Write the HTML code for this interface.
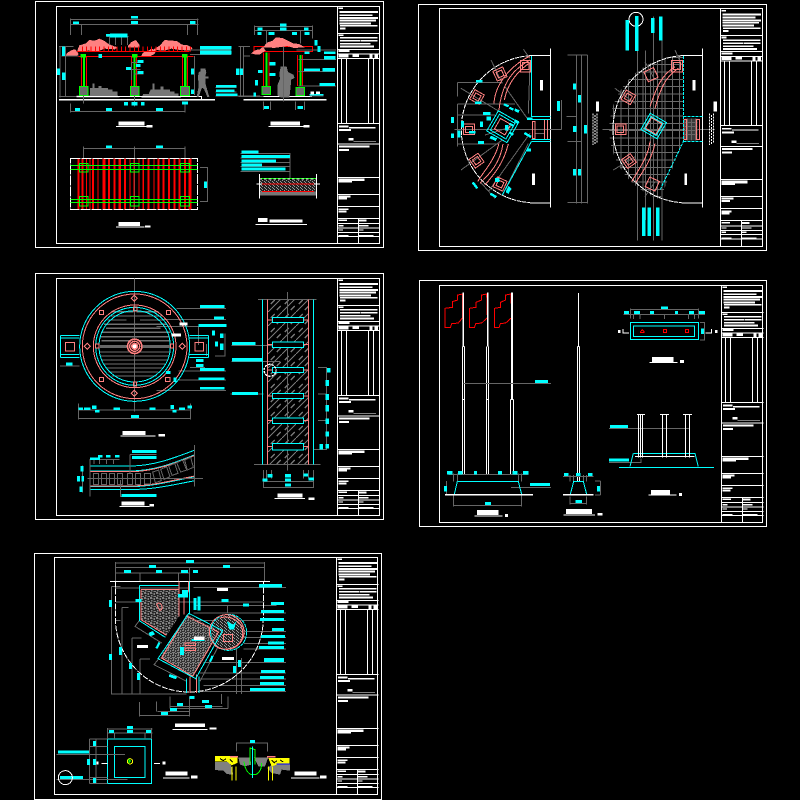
<!DOCTYPE html>
<html><head><meta charset="utf-8"><title>Landscape construction drawing sheets</title>
<style>html,body{margin:0;padding:0;background:#000}svg{display:block}</style></head>
<body>
<svg xmlns="http://www.w3.org/2000/svg" width="800" height="800" viewBox="0 0 800 800" shape-rendering="crispEdges" fill="none" stroke-linejoin="miter">
<defs>
<pattern id="spk" width="18" height="15" patternUnits="userSpaceOnUse"><rect width="18" height="15" fill="#262626"/><path d="M0 0h7v3H0zM10 0h5v6h-5zM3 6h4v5H3zM10 9h8v3h-8zM0 12h6v3H0z" fill="#808080"/></pattern>
<pattern id="spk2" width="15" height="15" patternUnits="userSpaceOnUse"><rect width="15" height="15" fill="#333"/><path d="M0 0h6v3H0zM9 0h3v6H9zM0 6h3v6H0zM6 6h6v3H6zM6 12h9v3H6z" fill="#808080"/></pattern>
<pattern id="hat" width="42" height="42" patternUnits="userSpaceOnUse"><path d="M0 42L42 0M8 18L20 6M26 36L38 24" stroke="#777" stroke-width="4"/></pattern>
<pattern id="sec" width="12" height="9" patternUnits="userSpaceOnUse"><rect width="12" height="9" fill="#222"/><path d="M0 0h3v3H0zM6 3h3v3H6zM9 6h3v3H9z" fill="#999"/></pattern>
<clipPath id="gridclip"><path d="M800 167A221 221 0 0 0 735 598L805 425V167Z"/></clipPath>
<g id="tb">
<path stroke="#fff" stroke-width="3" d="M0 81H126M0 129H126M0 157H126M0 351H126M0 413H126M0 513H126M0 564H126M0 600H126M0 636H126M0 652H126M0 665H126M0 678H126M0 691H126M13 157V351M27 157V351M94 157V351M109 157V351M63 636V712"/>
<path fill="#fff" d="M3 4h14v4H3zM6 14h116v6H6zM6 24h100v5H6zM6 32h116v6H6zM6 40h110v5H6zM6 48h95v6H6zM8 56h112v5H8zM8 64h16v6H8zM4 84h14v5H4zM8 92h112v5H8zM8 101h60v5H8zM70 101h50v5H70zM8 110h92v5H8zM8 118h102v6H8zM4 131h32v6H4zM0 142h126v3H0zM4 145h30v9H4zM45 145h20v7H45zM96 145h10v10H96zM112 145h10v10H112zM5 358h28v5H5zM35 362h80v4H35zM5 368h36v6H5zM34 395h14v8H34zM48 404h68v2H48zM5 418h92v6H5zM5 428h30v6H5zM4 516h78v8H4zM4 524h40v5H4zM4 567h36v6H4zM4 574h25v6H4zM4 606h30v5H4zM4 612h24v6H4zM3 640h26v4H3zM65 640h22v6H65zM3 656h15v4H3zM65 656h28v4H65zM3 669h14v4H3zM65 669h14v4H65zM3 686h30v4H3zM65 686h44v4H65z"/>
</g>
</defs>
<rect width="800" height="800" fill="#000"/>

<!-- SHEET 1 -->
<g transform="translate(30 0) scale(.33333)">
<path stroke="#fff" stroke-width="3" d="M16 4H1060V742H16ZM79 19H1048V731H79ZM922 19V731"/>
<use href="#tb" x="922" y="19"/>
<!-- shrubs -->
<path fill="#777" d="M180 264h8v-14h6v14h12v-6h8v6h20v4h14v6h14v12l6 6H140v-6h40zM340 282h16l6-14h6v-18h6v18h18v-8h8v8h20v6h14v6h12v8l8 6H334z"/>
<!-- clouds -->
<path fill="#ff8080" d="M106 168l6-10 14-8 10-2 10 14-6 6h-34zM142 152l6-16 20-6 10-10 16 2 14-6 14 6 14 10 14 6 14 4-10 6-30-2-20 8-30-2-16 4zM294 138l10-12 14-6 10 14v8h-34zM333 170l6-12 16-6 10-6 14 6-6 10-12 6h-28zM368 150l22-14 14-16 24 2 14 2 14 10 18 2 14 8-8 8-30-2-26-4-20 6-30-2z"/>
<!-- beams & posts -->
<path stroke="#f00" stroke-width="3" d="M145 169H490M141 154H478M157 139V154M170 139V154M183 139V154M196 139V154M209 139V154M222 139V154M235 139V154M248 139V154M261 139V154M274 139V154M287 139V154M300 139V154M313 139V154M326 139V154M339 139V154M352 139V154M365 139V154M378 139V154M391 139V154M404 139V154M417 139V154M430 139V154M443 139V154M456 139V154M469 139V154M482 139V154M155 170V258M170 170V258M305 170V258M320 170V258M458 170V258M473 170V258"/>
<path stroke="#f00" stroke-width="3" d="M672 139H848V155H672ZM700 158V258M717 158V258M802 165V258M818 165V258"/>
<path fill="#0f0" d="M159 162h6v96h-6zM152 162h16v10h-16zM310 162h7v96h-7zM306 162h16v10h-16zM462 162h7v96h-7zM456 162h16v10h-16zM706 158h6v100h-6zM808 165h6v95h-6z"/>
<path fill="#6a6a6a" d="M148 259h26v27h-26zM301 259h26v27h-26zM452 259h26v27h-26zM696 260h26v24h-26zM798 262h26v24h-26z"/>
<path stroke="#0f0" stroke-width="3" d="M148 259h26v27h-26zM301 259h26v27h-26zM452 259h26v27h-26zM696 260h26v24h-26zM798 262h26v24h-26z"/>
<!-- ground -->
<path stroke="#fff" stroke-width="3" d="M100 289H515V297M640 289H846"/>
<path stroke="#fff" stroke-width="5" d="M87 299H555M640 299H890"/>
<!-- people -->
<path fill="#777" d="M512 205h14l3 12-3 12h10v6h-10v14l6 22 6 20h-6l-10-24-6-4-10 28h-6l6-32-2-28 2-14 6-4zM752 200h18l4 16 16 8 4 10-10 4-4 40-2 14h-26l-10-6v-30l8-20-2-14z"/>
<!-- clouds 2 -->
<path fill="#ff8080" d="M663 160l14-10 12-2 10-8 8 12-10 6-8 6-14-1zM700 142l10-14 18-6 10-10 20 2 16 8 16 8 18 2 16 10-32 2-20-6-40 6-18-2z"/>
<!-- dims -->
<path stroke="#666" stroke-width="3" d="M121 58H505M121 73H505M121 55V105M503 55V105M155 73V105M472 73V105M107 140V290M90 140V292M87 140H130M95 168H145M87 290H140M121 334H465M121 310V338M465 310V338M160 286V310M313 286V320M480 150H603M480 163H603M493 168V285M230 110H296M238 110V135M256 110V135M275 110V135M292 110V135M305 188H340M305 188V240M295 208H332M310 222H340M556 262H620M556 276H620M556 288H690M673 79H848M673 92H848M673 76V105M848 76V115M710 92V130M812 92V130M631 140V290M641 140V290M625 140H660M640 168H660M625 290H700M760 140V305M700 305V330M722 305V330M797 305V330M824 305V330M800 150H918M806 178H918M806 215H915M806 258H918M840 288H880M160 445H465M160 440V475M313 440V475M465 440V475M510 502H533V605H510M313 475V629M780 460V535M632 460H782M632 474H782M632 488H782M632 500H782M632 515H782"/>
<!-- cyan labels -->
<path fill="#0ff" d="M303 48h21v8h-21zM303 63h21v9h-21zM129 64h18v8h-18zM480 63h16v9h-16zM240 100h52v12h-52zM228 102h14v8h-14zM510 138h94v10h-94zM510 152h94v11h-94zM96 140h9v28h-9zM81 205h9v20h-9zM96 218h10v22h-10zM483 205h9v18h-9zM483 268h9v14h-9zM135 324h15v9h-15zM228 324h18v9h-18zM378 324h21v9h-21zM282 306h12v10h-12zM305 306h17v10h-17zM333 306h10v10h-10zM456 305h18v8h-18zM323 180h17v9h-17zM288 201h15v9h-15zM318 192h13v9h-13zM323 213h17v9h-17zM205 162h11v12h-11zM558 255h62v8h-62zM558 268h55v8h-55zM558 280h64v8h-64zM750 70h20v9h-20zM750 83h20v9h-20zM683 82h14v9h-14zM822 82h14v9h-14zM682 96h13v9h-13zM716 96h18v9h-18zM786 96h15v9h-15zM824 96h15v9h-15zM853 120h10v16h-10zM862 138h10v18h-10zM824 154h15v8h-15zM882 154h35v8h-35zM882 168h35v10h-35zM822 205h48v8h-48zM877 204h38v10h-38zM868 249h47v9h-47zM718 186h18v10h-18zM684 210h14v9h-14zM718 219h18v9h-18zM675 240h9v16h-9zM670 278h8v12h-8zM618 205h10v20h-10zM630 205h9v20h-9zM702 318h15v9h-15zM803 318h16v9h-16zM838 282h42v4h-42zM228 436h18v8h-18zM378 436h21v8h-21zM522 544h9v20h-9zM634 452h52v9h-52zM634 465h146v9h-146zM634 478h104v9h-104zM634 490h62v9h-62zM634 503h132v9h-132z"/>
<path fill="#fff" d="M265 364h78v12h-78zM258 378h95v3h-95zM350 375h18v7h-18zM722 364h88v12h-88zM715 378h105v3h-105zM820 375h18v7h-18zM265 666h65v12h-65zM258 680h85v3h-85zM345 676h16v6h-16zM684 654h28v12h-28zM718 658h100v10H718zM676 672h155v3H676zM842 275h10v8h-10zM858 274h12v8h-12z"/>
<!-- roof plan -->
<path fill="#f00" d="M142 475h6v154h-6zM155 475h6v154h-6zM168 475h3v154h-3zM178 475h3v154h-3zM186 475h6v154h-6zM202 475h3v154h-3zM218 475h8v154h-8zM234 475h6v154h-6zM250 475h7v154h-7zM266 475h7v154h-7zM282 475h6v154h-6zM298 475h3v154h-3zM310 475h3v154h-3zM326 475h3v154h-3zM338 475h4v154h-4zM352 475h6v154h-6zM370 475h3v154h-3zM382 475h6v154h-6zM398 475h6v154h-6zM414 475h6v154h-6zM430 475h7v154h-7zM445 475h6v154h-6zM462 475h6v154h-6zM476 475h8v154h-8z"/>
<path stroke="#fff" stroke-width="3" stroke-dasharray="30 3" d="M121 475H503V629H121Z"/>
<path stroke="#0f0" stroke-width="3" d="M121 497H503M121 509H503M121 598H503M121 608H503M148 490h26v26h-26zM301 490h26v26h-26zM452 490h26v26h-26zM148 589h26v29h-26zM301 589h26v29h-26zM452 589h26v29h-26z"/>
<!-- section -->
<rect x="690" y="540" width="168" height="46" fill="url(#sec)"/>
<path fill="#777" d="M690 574h168v12H690z"/>
<path stroke="#fff" stroke-width="3" d="M688 522V596M860 522V596M680 552H870"/>
<path stroke="#f00" stroke-width="3" d="M696 552H852M696 574H852"/>
<path stroke="#0f0" stroke-width="3" d="M692 536H858"/>
<path stroke="#fff" stroke-width="3" stroke-dasharray="8 6" d="M688 537H860"/>
</g>

<!-- SHEET 2 -->
<g transform="translate(415 0) scale(.33333)">
<path stroke="#fff" stroke-width="3" d="M10 13H1055V751H10ZM73 25H1042V739H73ZM916 25V739"/>
<use href="#tb" x="916" y="25" transform="translate(0 1)"/>
<!-- right hatch -->
<path clip-path="url(#gridclip)" stroke="#6a6a6a" stroke-width="3" d="M596 160V610M618 160V610M640 160V610M662 160V610M684 160V610M706 160V610M728 160V610M750 160V610M772 160V610M794 160V610M580 172H810M580 194H810M580 216H810M580 238H810M580 260H810M580 282H810M580 304H810M580 326H810M580 348H810M580 370H810M580 392H810M580 414H810M580 436H810M580 458H810M580 480H810M580 502H810M580 524H810M580 546H810M580 568H810M580 590H810"/>
<path stroke="#666" stroke-width="3" d="M668 50V722M692 152V660M716 50V722M741 50V722M562 388H900"/>
<path fill="#3a3a3a" d="M810 356h38v66h-38z"/>
<path stroke="#666" stroke-width="3" d="M810 368H848M810 380H848M810 392H848M810 404H848M818 356V422M830 356V422M842 356V422"/>
<!-- arcs -->
<path stroke="#fff" stroke-width="3" stroke-dasharray="14 2" d="M345 167A221 221 0 0 0 345 608M800 167A221 221 0 0 0 800 608"/>
<path stroke="#fff" stroke-width="3" d="M345 166H406M345 609H406M406 145V622M800 166H862M800 609H862M862 145V622"/>
<!-- gray construction left -->
<path stroke="#666" stroke-width="3" d="M128 248H262M128 248V290M128 312H300M128 312V440M128 345H240M118 388H440M128 432H250M440 300V388M138 265L262 340M138 510L262 420M210 405L290 380M228 180L262 250M325 148L345 175M345 190L340 340M270 260L340 360M220 575L345 400M195 545L240 595M262 585L340 430M360 400H390M484 165V610M500 165V610M517 165V610M458 165H517M458 608H517M455 349H484M457 425H500M600 265L660 310M595 510L660 470M690 185L720 240M780 150L800 195M690 590L720 545"/>
<!-- salmon left -->
<path stroke="#ff8080" stroke-width="3" d="M345 168C290 195 240 250 237 310M345 180C300 205 262 240 252 330M345 188C320 205 280 240 268 300M252 430C240 480 205 515 188 545M264 432C255 490 225 520 195 550M280 432C265 490 240 520 210 555M316 182h30v34h-30zM322 188h20v20h-20zM352 365h8v50h-8zM388 358h10v60h-10z"/>
<g stroke="#ff8080" stroke-width="3">
<rect x="239" y="206" width="32" height="32" transform="rotate(-25 255 222)"/><rect x="246" y="213" width="18" height="18" transform="rotate(-25 255 222)"/>
<rect x="170" y="275" width="32" height="32" transform="rotate(30 186 291)"/><rect x="177" y="282" width="18" height="18" transform="rotate(30 186 291)"/>
<path d="M145 372h34v32h-34zM152 380h20v17h-20z"/>
<rect x="169" y="466" width="32" height="32" transform="rotate(-35 185 482)"/><rect x="176" y="473" width="18" height="18" transform="rotate(-35 185 482)"/>
<rect x="239" y="536" width="32" height="32" transform="rotate(25 255 552)"/><rect x="246" y="543" width="18" height="18" transform="rotate(25 255 552)"/>
<rect x="245" y="362" width="36" height="36" transform="rotate(30 263 380)"/>
</g>
<g stroke="#0ff" stroke-width="3"><rect x="228" y="345" width="70" height="70" transform="rotate(30 263 380)"/><rect x="236" y="353" width="54" height="54" transform="rotate(30 263 380)"/></g>
<path stroke="#0ff" stroke-width="3" d="M349 168V350H406M349 358H406M349 418H406M349 425H406M349 425L262 585"/>
<!-- salmon right -->
<path stroke="#ff8080" stroke-width="3" d="M780 200C740 225 725 260 705 320M790 205C750 230 735 270 720 325M705 425C700 470 670 510 650 545M720 430C710 480 680 520 662 548M770 182h32v34h-32zM776 188h20v20h-20zM807 358h8v60h-8zM845 358h8v60h-8z"/>
<g stroke="#ff8080" stroke-width="3">
<rect x="692" y="208" width="32" height="32" transform="rotate(-25 708 224)"/>
<rect x="624" y="276" width="32" height="32" transform="rotate(30 640 292)"/><rect x="631" y="283" width="18" height="18" transform="rotate(30 640 292)"/>
<path d="M601 372h32v32h-32zM606 378h20v20h-20z"/>
<rect x="626" y="467" width="32" height="32" transform="rotate(-35 642 483)"/><rect x="633" y="474" width="18" height="18" transform="rotate(-35 642 483)"/>
<rect x="696" y="536" width="32" height="32" transform="rotate(25 712 552)"/>
<rect x="698" y="360" width="36" height="36" transform="rotate(30 716 378)"/>
</g>
<g stroke="#0ff" stroke-width="3"><rect x="688" y="350" width="56" height="56" transform="rotate(30 716 378)"/><rect x="695" y="357" width="42" height="42" transform="rotate(30 716 378)"/></g>
<path stroke="#0ff" stroke-width="3" stroke-dasharray="9 3" d="M805 168V425L735 570M805 350H862M805 425H862"/>
<circle cx="663" cy="58" r="21" stroke="#fff" stroke-width="3"/>
<!-- cyan -->
<path fill="#0ff" d="M632 60h10v92h-10zM660 48h10v105h-10zM708 54h10v45h-10zM732 50h10v72h-10zM681 622h10v86h-10zM698 622h10v86h-10zM723 622h10v86h-10zM474 250h9v18h-9zM489 285h9v22h-9zM474 378h10v18h-10zM507 375h9v25h-9zM474 507h9v20h-9zM489 507h9v20h-9zM426 303h9v30h-9zM183 240h20v8h-20zM180 304h20v8h-20zM204 336h22v9h-22zM108 351h9v18h-9zM138 363h9v20h-9zM195 365h9v16h-9zM162 393h20v8h-20zM128 392h9v20h-9zM108 400h9v14h-9zM189 423h18v9h-18zM268 310l14 6-3 6-14-6zM285 320l12 6-3 6-12-6zM300 325l14 6-4 8-12-6zM214 350h14v12h-14zM270 375h10v16h-10zM285 368l12 6-3 6-12-6zM300 358l12 6-3 8-12-6zM228 407l18 8-4 8-18-8zM285 395l12 6-3 6-12-6zM330 396l20 12-4 6-20-12zM336 445h12v10h-12zM336 352h16v8h-16zM176 545l14 18-6 4-14-18zM240 534h14v12h-14zM280 558l10 8-10 16-8-6zM228 578l18 10-4 6-18-10z"/>
<path fill="#fff" d="M375 240h9v32h-9zM351 520h9v35h-9zM832 240h9v32h-9zM808 520h8v35h-8zM543 305h9v30h-9zM896 305h10v30h-10z"/>
<path stroke="#fff" stroke-width="3" stroke-dasharray="6 3" d="M534 340V435M540 345V435M546 340V430M884 340V435M890 345V435M896 340V430"/>
</g>

<!-- SHEET 3 -->
<g transform="translate(30 270) scale(.33333)">
<path stroke="#fff" stroke-width="3" d="M16 10H1060V748H16ZM79 25H1048V737H79ZM922 25V737"/>
<use href="#tb" x="922" y="25"/>
<!-- circle plan -->
<path stroke="#666" stroke-width="3" d="M313 25V425M440 115H588M400 148H588M380 170H590M505 170V225M445 303H588M445 330H588M380 362H588M145 420H482M145 445H482M145 400V448M482 400V448M90 288H148M480 292H525M530 222V258M555 258H585M585 190V260"/>
<path stroke="#707070" stroke-width="4" d="M244 125H310M320 125H385M238 138H395M232 150H290M330 150H400M222 163H410M228 175H392M214 187H420M210 200H418M214 212H420M208 246H420M212 258H418M214 270H414M222 282H405M226 294H400M236 306H385M244 318H380"/>
<path stroke="#666" stroke-width="9" d="M210 229H420"/>
<g stroke="#0ff" stroke-width="3"><circle cx="314" cy="229" r="165"/><circle cx="314" cy="229" r="117"/><circle cx="314" cy="229" r="107"/></g>
<g stroke="#ff8080" stroke-width="3"><circle cx="314" cy="229" r="157"/><circle cx="314" cy="229" r="124"/></g>
<circle cx="314" cy="229" r="24" fill="#ff8080"/>
<g stroke="#000" stroke-width="2"><circle cx="314" cy="229" r="18"/><circle cx="314" cy="229" r="12"/></g>
<circle cx="314" cy="229" r="6" fill="#fff"/>
<path stroke="#ff8080" stroke-width="3" d="M208 121h12v12h-12zM409 121h12v12h-12zM208 322h12v12h-12zM407 322h13v13h-13zM311 111h10v12h-10zM310 336h9v12h-9zM197 222h10v12h-10zM421 222h10v12h-10zM313 76l9 9-9 9-9-9zM313 361l9 9-9 9-9-9zM172 220l9 9-9 9-9-9zM457 220l9 9-9 9-9-9zM106 217h28v26h-28zM495 217h26v26h-26z"/>
<path stroke="#0ff" stroke-width="3" d="M91 196H148M91 204H148M91 196V262M91 254H148M91 262H148M478 196H536M478 204H536M536 196V262M478 254H536M478 262H536"/>
<path fill="#0ff" d="M510 105h74v9h-74zM552 140h30v8h-30zM505 162h85v9h-85zM510 294h74v9h-74zM505 322h78v8h-78zM510 351h74v8h-74zM408 303h14v9h-14zM430 322h9v14h-9zM546 182h9v15h-9zM570 190h10v14h-10zM555 215h9v15h-9zM570 220h10v20h-10zM498 267h22v9h-22zM498 282h22v9h-22zM145 412h14v8h-14zM162 412h20v8h-20zM186 407h14v10h-14zM195 420h14v8h-14zM250 412h20v8h-20zM358 412h18v8h-18zM422 405h10v12h-10zM428 420h12v8h-12zM447 412h18v8h-18zM472 407h14v9h-14zM303 435h24v9h-24zM108 278h20v8h-20z"/>
<path fill="#fff" d="M448 158h24v9h-24zM425 190h28v9h-28zM278 483h68v12h-68zM272 497h105v3H272zM385 492h20v8h-20z"/>
<!-- curve plan -->
<path stroke="#0ff" stroke-width="3" d="M180 588H300C370 588 430 565 495 540M180 603H300C370 603 430 580 495 554M180 650H300C370 650 440 630 495 620M180 658H300C370 660 440 642 495 632"/>
<path stroke="#ff8080" stroke-width="3" d="M180 605H300C370 605 430 582 495 556M180 648H300C370 648 440 628 495 618"/>
<path stroke="#666" stroke-width="3" d="M190 610h16v34h-16zM214 610h16v34h-16zM238 610h16v34h-16zM262 610h16v34h-16zM292 610h16v34h-16zM316 610h16v34h-16zM344 610h18v32h-18zM368 606l18-6 8 32-18 6zM392 598l18-8 10 30-18 8zM416 588l18-8 10 30-18 6zM440 578l18-8 12 30-18 6zM464 570l18-8 8 30-18 8zM172 625H519M180 570V680M300 554V610M300 554H380M272 630V680H380M158 586V668M494 525V650M178 568H268M192 568V582M208 568V582M230 568V582M250 568V582"/>
<path fill="#0ff" d="M306 540h74v9h-74zM306 558h74v9h-74zM180 562h30v8h-30zM204 555h14v8h-14zM228 555h14v8h-14zM255 555h14v8h-14zM152 588h9v16h-9zM141 618h9v17h-9zM154 618h8v17h-8zM148 650h10v16h-10zM275 672h105v9H275z"/>
<path fill="#fff" d="M275 694h68v12h-68zM268 708h90v3h-90zM358 702h14v8h-14z"/>
<!-- strip -->
<rect x="712" y="88" width="124" height="495" fill="url(#hat)"/>
<path stroke="#666" stroke-width="3" d="M772 66V602M684 88H860M672 583H872M604 226H730M604 274H750M602 372H700M864 292H890V538H850M864 372H890M864 452H890M700 600V652H850V600M700 634H850M850 600V652M710 600V625M725 600V625M820 600V625M836 600V625"/>
<path fill="#000" d="M727 142H821V158H727ZM727 216H821V233H727ZM727 292H821V308H727ZM727 370H821V386H727ZM727 444H821V461H727ZM727 520H821V540H727Z"/>
<path stroke="#0ff" stroke-width="3" d="M697 88V583M851 88V583M727 142H821V158H727ZM727 216H821V233H727ZM727 292H821V308H727ZM727 370H821V386H727ZM727 444H821V461H727ZM727 520H821V540H727Z"/>
<path stroke="#ff8080" stroke-width="3" d="M712 88V583M836 88V583M712 150H727M712 224H727M712 300H727M712 378H727M712 452H727M712 530H727M821 150H836M821 224H836M821 300H836M821 378H836M821 452H836M821 530H836"/>
<path fill="#0ff" d="M606 216h70v9h-70zM606 264h90v10h-90zM606 366h78v9h-78zM891 294h11v14h-11zM887 330h10v18h-10zM887 372h10v18h-10zM887 405h10v20h-10zM887 446h10v16h-10zM887 484h10v16h-10zM869 522h10v16h-10zM887 522h10v14h-10zM712 612h16v10h-16zM697 625h16v9h-16zM765 612h18v10h-18zM765 625h18v9h-18zM765 640h18v9h-18zM820 610h14v9h-14zM836 622h16v9h-16z"/>
<path stroke="#fff" stroke-width="4" stroke-dasharray="7 3" fill="none" d="M720 283a18 18 0 1 0 .1 0"/>
<path fill="#fff" d="M742 670h76v12h-76zM733 684h92v3h-92zM835 682h18v8h-18z"/>
</g>

<!-- SHEET 4 -->
<g transform="translate(415 275) scale(.33333)">
<path stroke="#fff" stroke-width="3" d="M13 16H1055V754H13ZM73 31H1042V742H73ZM919 31V742"/>
<use href="#tb" x="919" y="31"/>
<path stroke="#f00" stroke-width="3" d="M143 57L128 60V75L112 80V97L90 100V157L106 158L110 146L130 144L143 128ZM215 57L200 60V75L183 82V97L163 100V157L178 158L182 146L200 144L217 128ZM288 57L272 60V75L256 82V97L238 100V157L252 158L256 146L272 144L290 128Z"/>
<path stroke="#fff" stroke-width="3" d="M142 214V600M149 214V600M143 214H149M214 214V600M221 214V600M286 374V600M296 374V600M286 374H296M487 214V620M494 214V620M487 214H494M142 374H149M214 374H221"/>
<path fill="#fff" d="M142 52h5v162h-5zM216 52h5v162h-5zM288 52h6v322h-6zM489 54h3v160h-3z"/>
<path stroke="#666" stroke-width="3" d="M145 325H408M100 598H340M115 595V620M128 595V620M310 595V620M320 595V620M94 618V660H120M115 660V695M320 660V695M115 691H320M288 637H408M444 604H536M465 600V620M475 600V620M505 600V620M515 600V620M556 618V660M540 618H557M540 660H557M465 665V688M515 665V688M465 685H515M625 118H870M646 100V130M851 100V130M646 103H851M655 118V132M675 118V132M748 118V132M820 118V132M838 118V132M855 142H869V195H855M582 460H822M582 562H678V550"/>
<path stroke="#0ff" stroke-width="3" d="M127 619H310L320 658M127 619L118 658M476 619H505L515 658M476 619L466 658M646 142H851V194H646ZM655 153H839V185H655ZM655 535H840L850 575M655 535L645 575M612 577H897"/>
<path fill="#fff" d="M90 657h264v5H90zM444 657h92v5h-92z"/>
<path stroke="#f00" stroke-width="3" d="M677 170l5-6 5 6v3h-10zM745 164h9v9h-9zM811 164h9v9h-9z"/>
<path stroke="#fff" stroke-width="3" d="M670 420V548M677 420V548M682 420V548M742 420V548M755 420V548M811 420V548M824 420V548M666 418H690M735 418H762M804 418H831M660 544H838M610 166V174M624 162V174H642M872 174H890V162"/>
<path fill="#0ff" d="M96 588h16v10H96zM129 588h14v10h-14zM177 588h9v10h-9zM249 588h12v10h-12zM292 588h16v10h-16zM324 588h16v10h-16zM87 633h9v16h-9zM345 624h60v9h-60zM360 315h39v9h-39zM210 681h18v9h-18zM447 594h14v9h-14zM483 594h14v9h-14zM519 594h14v9h-14zM546 633h9v16h-9zM481 675h20v9h-20zM738 94h21v8h-21zM627 108h15v9h-15zM657 108h18v9h-18zM705 108h12v9h-12zM780 108h9v9h-9zM822 108h15v9h-15zM852 108h18v9h-18zM858 160h9v17h-9zM585 450h54v9h-54zM582 551h60v9h-60z"/>
<path fill="#fff" d="M186 705h64v15h-64zM178 722h85v3h-85zM270 717h9v9h-9zM453 702h78v15h-78zM445 719h95v3H445zM547 714h16v8h-16zM711 246h64v15h-64zM703 261h85v3H703zM795 255h12v9h-12zM708 645h57v14h-57zM700 659h85v3H700zM792 654h9v9h-9zM609 165h8v9h-8zM900 165h8v9h-8z"/>
</g>

<!-- SHEET 5 -->
<g transform="translate(30 548) scale(.33333)">
<path stroke="#fff" stroke-width="3" d="M13 16H1055V754H13ZM73 28H1042V739H73ZM919 28V739"/>
<use href="#tb" x="919" y="28"/>
<path stroke="#666" stroke-width="3" d="M256 45H703M256 58H703M256 75H478M256 42V100M703 42V100M330 75V100M445 75V100M478 60V100M244 115V438H360M244 115H272M244 438H470M256 162H703M276 178V438M276 178H295M306 270V438M306 270H335M330 333V438M330 333H360M256 217H272M490 118H768M490 172H740M490 195H768M592 172V195M490 218H768M640 218H768M640 250H768M640 268H768M640 286H768M640 303H768M520 343H768M510 375H768M510 393H768M520 412H768M510 430H768M620 298V438M634 330V438M574 438V468M594 445V482M420 445V482M380 460V490M328 462V505M328 503H480M382 490H480M420 475H578M420 482H594M478 445V505M255 120H480"/>
<path stroke="#666" stroke-width="3" d="M330 215L315 235L395 285M388 330L372 350L470 400M565 295L510 400"/>
<path stroke="#fff" stroke-width="3" stroke-dasharray="18 4" d="M256 100V210A222 222 0 0 0 700 210V100"/>
<path stroke="#fff" stroke-width="3" d="M240 100H720"/>
<!-- plaza polygons -->
<path fill="url(#spk)" d="M333 124H447V205L410 262L333 215Z"/>
<path fill="url(#spk2)" d="M470 200L570 250L490 385L390 330Z"/>
<circle cx="595" cy="252" r="50" fill="url(#sec)"/>
<path stroke="#ff8080" stroke-width="3" d="M333 124H447M333 124V215L410 262M470 204L565 252L488 385L395 330ZM447 100V205M475 100V130L462 150V200M480 385V435M500 380V435M380 170c10 -15 25 10 10 18zM465 285h32v8h-32zM465 300h32v8h-32z"/>
<path stroke="#ff8080" stroke-width="3" d="M570 210c30 -10 65 10 68 40s-18 50 -45 53s-35 -8 -40 -12M580 260h28v20h-28z"/>
<path stroke="#0ff" stroke-width="3" d="M328 112H445M328 112V218L406 268M476 196L578 248L497 392L384 332ZM478 100V200M470 392V435M507 385V435"/>
<circle cx="596" cy="253" r="54" stroke="#0ff" stroke-width="3" stroke-dasharray="10 2"/>
<path stroke="#ff8080" stroke-width="3" d="M590 200a52 52 0 1 1 -0.1 0"/>
<path fill="#0ff" d="M468 36h24v9h-24zM357 51h21v9h-21zM579 51h21v9h-21zM282 66h21v9h-21zM378 66h18v9h-18zM453 66h21v9h-21zM489 66h15v9h-15zM687 108h69v10h-69zM444 138h30v10h-30zM456 126h18v12h-18zM574 153h21v9h-21zM316 153h18v9h-18zM723 162h39v9h-39zM639 167h18v9h-18zM693 186h69v9h-69zM690 210h72v9h-72zM726 240h36v9h-36zM693 261h72v9h-72zM714 280h48v9h-48zM687 294h75v9h-75zM702 330h60v12h-60zM693 366h72v9h-72zM690 384h72v9h-72zM690 402h72v9h-72zM660 420h105v9H660zM237 156h9v21h-9zM237 318h9v18h-9zM267 297h9v24h-9zM297 345h9v18h-9zM321 375h9v21h-9zM450 297h12v24h-12zM484 273h40v6h-40zM491 150h8v36h-8zM502 146h10v42h-10zM609 354h9v21h-9zM624 336h9v21h-9zM441 465h18v9h-18zM516 456h21v9h-21zM525 471h21v9h-21zM420 480h21v9h-21zM393 492h21v9h-21zM478 444h15v9h-15z"/>
<path fill="#0ff" d="M355 255l14-6 6 10-14 6zM376 300l10-18 6 3-10 18zM419 378l22 8-3 8-22-8zM537 340l8-18 6 3-8 18zM590 220l20 10 10-12-8 26h-14z"/>
<path fill="#fff" d="M561 120h33v9h-33zM321 291h33v9h-33zM576 327h36v9h-36zM492 266h32v10h-32zM435 526h90v11h-90zM427 543h105v3H427zM538 538h22v7h-22z"/>
<!-- pit plan -->
<path stroke="#0ff" stroke-width="3" d="M232 573H365V707H232ZM253 595H345V688H253Z"/>
<path stroke="#666" stroke-width="3" d="M232 543H367M232 555H367M232 540V573M253 555V573M345 555V573M365 540V573M178 573H232M178 595H232M178 688H232M178 707H232M178 573V707M198 573V707M80 619H285M80 695H292"/>
<path fill="#0ff" d="M291 534h18v9h-18zM291 546h18v9h-18zM237 546h15v9h-15zM348 546h15v9h-15zM189 579h9v15h-9zM171 633h9v18h-9zM189 633h9v18h-9zM189 690h9v15h-9zM84 608h93v9H84zM90 684h69v9H90z"/>
<circle cx="300" cy="640" r="8" stroke="#ff0" stroke-width="3"/>
<path stroke="#0f0" stroke-width="3" d="M297 634l5 5-5 5z"/>
<path fill="#fff" d="M200 640h6v9h-6zM214 645h18v3h-18zM372 645h18v3h-18zM398 640h8v9h-8zM406 670h66v12h-66zM399 688h80v3h-80zM483 682h20v9h-20zM793 670h66v12h-66zM783 688h85v3h-85zM870 682h20v9h-20z"/>
<circle cx="106" cy="689" r="21" stroke="#fff" stroke-width="3"/>
<!-- detail -->
<path fill="#808080" d="M555 642H600L610 680L590 678L580 668L555 666ZM625 628L660 628L664 650L645 655L630 650ZM672 628H715L705 655L685 655ZM712 660L740 640L780 648V668L755 665L750 680L725 675Z"/>
<path fill="#ff0" d="M555 624H622V645L605 652L590 640H555ZM715 630H778V646L740 650L725 655Z"/>
<path fill="#ff8080" d="M600 624h24v4h-24zM711 624h26v4h-26z"/>
<path stroke="#000" stroke-width="3" d="M570 632l10 6 8-6M600 634l8 8M725 636l8 8 8-6M750 636l10 6"/>
<path stroke="#00f" stroke-width="3" d="M740 648H780"/>
<path stroke="#0f0" stroke-width="3" d="M642 640C645 670 660 682 670 680C685 682 695 665 695 645M660 650V600L675 605V650"/>
<path stroke="#0ff" stroke-width="3" d="M667 595V690"/>
<path stroke="#ff0" stroke-width="3" d="M606 655V698M618 655V698M715 655V698M727 655V698"/>
<path stroke="#666" stroke-width="3" d="M620 585H713M620 583V610M713 583V610"/>
<path fill="#0ff" d="M660 576h15v9h-15z"/>
</g>
</svg>
</body></html>
